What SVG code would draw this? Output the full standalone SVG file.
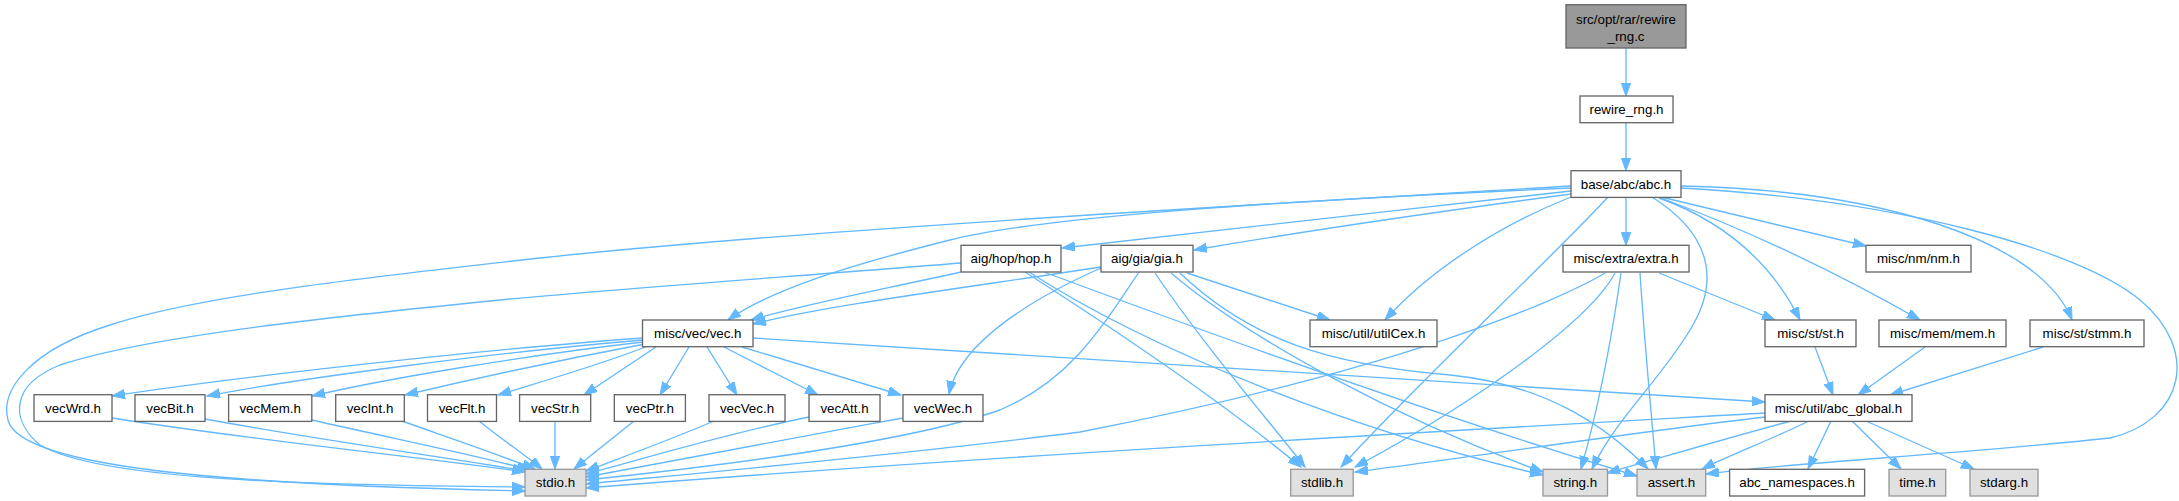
<svg xmlns="http://www.w3.org/2000/svg" width="2179" height="501" viewBox="0 0 2179 501">
<style>
.n rect{fill:#ffffff;stroke:#666666;stroke-width:1.33}
.g rect{fill:#e0e0e0;stroke:#999999;stroke-width:1.33}
.r rect{fill:#999999;stroke:#666666;stroke-width:1.33}
text{font-family:"Liberation Sans",Arial,Helvetica,sans-serif;font-size:13.33px;fill:#000000;text-anchor:middle}
#edges path{fill:none;stroke:#63b8ff;stroke-width:1.33;marker-end:url(#ah)}
</style>
<defs>
<marker id="ah" markerUnits="userSpaceOnUse" markerWidth="14" markerHeight="10" refX="13" refY="4.7" orient="auto" viewBox="0 0 14 10">
<path d="M0,0 L13,4.7 L0,9.4 z" fill="#63b8ff" stroke="#63b8ff" stroke-width="1"/>
</marker>
</defs>
<rect width="2179" height="501" fill="#ffffff"/>
<g id="edges">
<path d="M1626,48 L1626,96"/>
<path d="M1626,122.7 L1626,170.7"/>
<path d="M1626,197.3 L1626,245.3"/>
<path d="M1571,186 C1250,205 800,230 540,258 C380,276 200,295 110,325 C30,350 0,390 8,420 C20,470 250,485 525,491"/>
<path d="M1571,188 C1300,200 1050,215 950,240 C850,265 770,290 728,320"/>
<path d="M1571,191 C1400,210 1200,232 1062,248"/>
<path d="M1571,194 C1450,210 1300,232 1194,250"/>
<path d="M1571,197 C1500,225 1430,270 1385,320"/>
<path d="M1608,197 C1550,260 1420,380 1341,467"/>
<path d="M1652,197 C1720,240 1715,290 1690,330 C1660,380 1615,420 1592,469"/>
<path d="M1659,198 C1720,220 1770,260 1800,320"/>
<path d="M1661,198 C1760,235 1850,280 1920,320"/>
<path d="M1661,197 L1866,246"/>
<path d="M1681,186 C1880,190 2040,240 2072,320"/>
<path d="M1681,188 C1900,200 2080,250 2140,300 C2200,350 2185,420 2110,438 C1950,455 1800,462 1706,474"/>
<path d="M961,263 C800,276 600,290 500,300 C350,315 150,335 60,365 C10,385 10,420 40,445 C100,480 300,485 525,487"/>
<path d="M961,272 C880,290 800,305 751,320"/>
<path d="M1025,272 C1100,320 1220,400 1301,467"/>
<path d="M1029,272 C1150,350 1350,430 1543,475"/>
<path d="M1044,272 C1200,330 1450,420 1637,476"/>
<path d="M1101,267 C950,290 830,305 753,324"/>
<path d="M1101,268 C1040,295 960,340 949,394"/>
<path d="M1139,272 C1100,330 1070,380 1000,410 C900,445 700,468 586,480"/>
<path d="M1155,273 C1200,340 1260,410 1305,467"/>
<path d="M1171,273 C1250,340 1400,420 1543,472"/>
<path d="M1180,273 C1250,340 1330,365 1450,375 C1550,385 1610,430 1648,469"/>
<path d="M1187,273 L1330,320"/>
<path d="M1605,273 C1560,300 1400,370 1080,432 C900,455 700,473 586,484"/>
<path d="M1615,273 C1590,320 1480,400 1355,467"/>
<path d="M1621,273 C1610,350 1595,420 1581,469"/>
<path d="M1640,273 C1645,350 1652,420 1656,469"/>
<path d="M1659,273 L1775,320"/>
<path d="M643,338 C500,348 250,375 112,396"/>
<path d="M643,340 C500,352 300,378 207,396"/>
<path d="M643,342 C520,356 380,380 312,396"/>
<path d="M645,344 C560,360 460,382 405,395"/>
<path d="M648,346 C600,365 540,382 498,395"/>
<path d="M656,347 L584,395"/>
<path d="M689,347 L660,395"/>
<path d="M707,347 L737,395"/>
<path d="M724,347 L818,395"/>
<path d="M742,347 L901,395"/>
<path d="M753,338 L1765,402"/>
<path d="M112,418 C250,440 430,458 525,472"/>
<path d="M205,419 C320,440 450,458 526,471"/>
<path d="M312,420 C400,440 480,456 530,470"/>
<path d="M402,421 C450,438 500,455 535,469"/>
<path d="M479,421 C500,438 525,455 542,469"/>
<path d="M555,421 L555,469"/>
<path d="M634,421 L574,469"/>
<path d="M714,421 C670,440 620,458 586,471"/>
<path d="M809,417 C720,435 640,460 586,474"/>
<path d="M903,418 C780,440 650,465 586,477"/>
<path d="M1815,347 L1833,395"/>
<path d="M1925,347 L1858,395"/>
<path d="M2043,347 L1890,395"/>
<path d="M1765,413 C1500,428 1000,455 586,488"/>
<path d="M1765,417 C1650,430 1450,460 1355,472"/>
<path d="M1791,421 C1720,440 1660,458 1607,473"/>
<path d="M1809,421 C1770,440 1730,455 1702,469"/>
<path d="M1831,421 L1808,469"/>
<path d="M1852,421 L1901,469"/>
<path d="M1866,421 L1974,469"/>
</g>
<g id="n_top" class="r"><rect x="1566" y="4.7" width="120" height="43.3"/><text x="1626" y="24">src/opt/rar/rewire</text><text x="1626" y="40.5">_rng.c</text></g>
<g id="n_rewire_rng_h" class="n"><rect x="1580" y="96" width="93" height="26.7"/><text x="1626.5" y="113.8">rewire_rng.h</text></g>
<g id="n_abc_h" class="n"><rect x="1571" y="170.7" width="110" height="26.7"/><text x="1626" y="188.5">base/abc/abc.h</text></g>
<g id="n_hop_h" class="n"><rect x="961" y="245.3" width="100" height="26.7"/><text x="1011" y="263.1">aig/hop/hop.h</text></g>
<g id="n_gia_h" class="n"><rect x="1101" y="245.3" width="92" height="26.7"/><text x="1147" y="263.1">aig/gia/gia.h</text></g>
<g id="n_extra_h" class="n"><rect x="1563" y="245.3" width="126" height="26.7"/><text x="1626" y="263.1">misc/extra/extra.h</text></g>
<g id="n_nm_h" class="n"><rect x="1866" y="245.3" width="105" height="26.7"/><text x="1918.5" y="263.1">misc/nm/nm.h</text></g>
<g id="n_vec_h" class="n"><rect x="642.5" y="320" width="110.5" height="26.7"/><text x="697.8" y="337.8">misc/vec/vec.h</text></g>
<g id="n_utilCex_h" class="n"><rect x="1310" y="320" width="127" height="26.7"/><text x="1373.5" y="337.8">misc/util/utilCex.h</text></g>
<g id="n_st_h" class="n"><rect x="1765" y="320" width="91" height="26.7"/><text x="1810.5" y="337.8">misc/st/st.h</text></g>
<g id="n_mem_h" class="n"><rect x="1879" y="320" width="127" height="26.7"/><text x="1942.5" y="337.8">misc/mem/mem.h</text></g>
<g id="n_stmm_h" class="n"><rect x="2030" y="320" width="114" height="26.7"/><text x="2087" y="337.8">misc/st/stmm.h</text></g>
<g id="n_vecWrd_h" class="n"><rect x="34" y="394.7" width="78" height="26.7"/><text x="73" y="412.5">vecWrd.h</text></g>
<g id="n_vecBit_h" class="n"><rect x="135" y="394.7" width="70" height="26.7"/><text x="170" y="412.5">vecBit.h</text></g>
<g id="n_vecMem_h" class="n"><rect x="228.6" y="394.7" width="83.2" height="26.7"/><text x="270.2" y="412.5">vecMem.h</text></g>
<g id="n_vecInt_h" class="n"><rect x="335.7" y="394.7" width="68.6" height="26.7"/><text x="370" y="412.5">vecInt.h</text></g>
<g id="n_vecFlt_h" class="n"><rect x="427.5" y="394.7" width="69" height="26.7"/><text x="462" y="412.5">vecFlt.h</text></g>
<g id="n_vecStr_h" class="n"><rect x="519.6" y="394.7" width="71.1" height="26.7"/><text x="555.2" y="412.5">vecStr.h</text></g>
<g id="n_vecPtr_h" class="n"><rect x="614.3" y="394.7" width="71.1" height="26.7"/><text x="649.9" y="412.5">vecPtr.h</text></g>
<g id="n_vecVec_h" class="n"><rect x="709" y="394.7" width="76" height="26.7"/><text x="747" y="412.5">vecVec.h</text></g>
<g id="n_vecAtt_h" class="n"><rect x="809" y="394.7" width="71" height="26.7"/><text x="844.5" y="412.5">vecAtt.h</text></g>
<g id="n_vecWec_h" class="n"><rect x="903" y="394.7" width="80" height="26.7"/><text x="943" y="412.5">vecWec.h</text></g>
<g id="n_abc_global_h" class="n"><rect x="1765" y="394.7" width="147" height="26.7"/><text x="1838.5" y="412.5">misc/util/abc_global.h</text></g>
<g id="n_stdio_h" class="g"><rect x="525" y="469.3" width="61" height="26.7"/><text x="555.5" y="487.1">stdio.h</text></g>
<g id="n_stdlib_h" class="g"><rect x="1290.7" y="469.3" width="62.5" height="26.7"/><text x="1322" y="487.1">stdlib.h</text></g>
<g id="n_string_h" class="g"><rect x="1543" y="469.3" width="64.5" height="26.7"/><text x="1575.3" y="487.1">string.h</text></g>
<g id="n_assert_h" class="g"><rect x="1637" y="469.3" width="68.7" height="26.7"/><text x="1671.4" y="487.1">assert.h</text></g>
<g id="n_abc_namespaces_h" class="n"><rect x="1729.6" y="469.3" width="135" height="26.7"/><text x="1797.1" y="487.1">abc_namespaces.h</text></g>
<g id="n_time_h" class="g"><rect x="1889" y="469.3" width="56.7" height="26.7"/><text x="1917.4" y="487.1">time.h</text></g>
<g id="n_stdarg_h" class="g"><rect x="1970" y="469.3" width="68" height="26.7"/><text x="2004" y="487.1">stdarg.h</text></g>
</svg>
